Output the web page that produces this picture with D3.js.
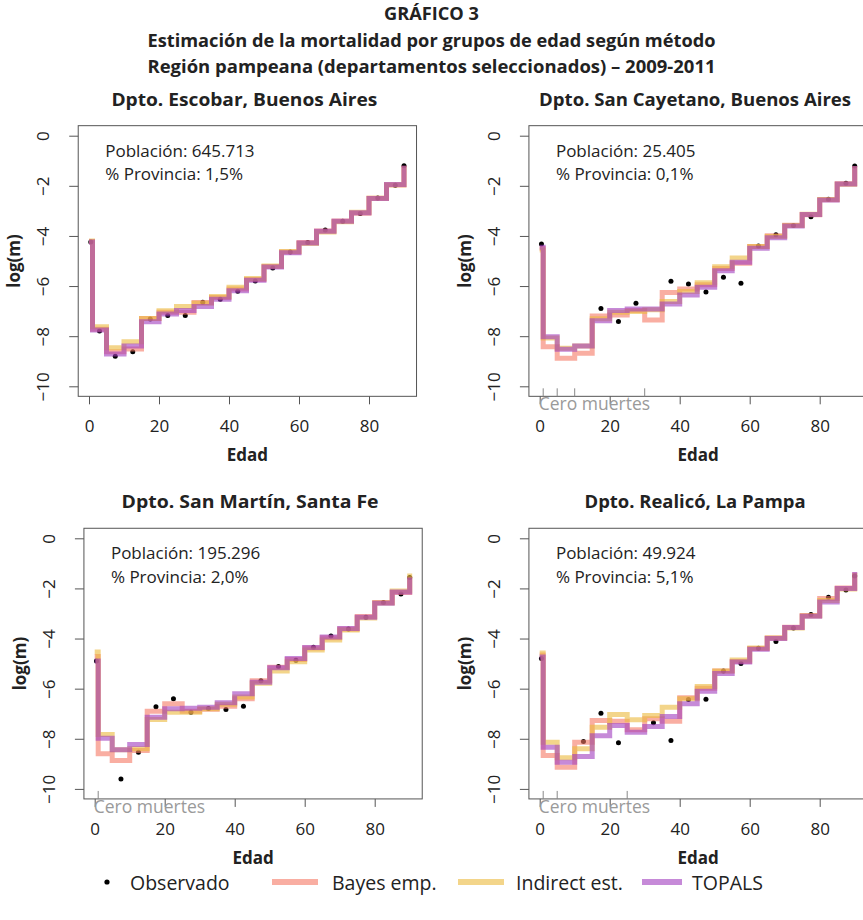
<!DOCTYPE html>
<html>
<head>
<meta charset="utf-8">
<script src="https://cdn.jsdelivr.net/npm/d3@7"></script>
<style>
  body { margin: 0; background: #fff; }
  svg text { font-family: "Open Sans", "Noto Sans", sans-serif; }
</style>
</head>
<body>
<svg id="chart" width="863" height="920"></svg>
<script>
// age groups: 0, 1-4, 5-9, ..., 85-89, 90+
const ageStart = [0, 1, 5, 10, 15, 20, 25, 30, 35, 40, 45, 50, 55, 60, 65, 70, 75, 80, 85, 90]
const ageMid = [0.5, 3, 7.5, 12.5, 17.5, 22.5, 27.5, 32.5, 37.5, 42.5, 47.5, 52.5, 57.5, 62.5, 67.5, 72.5, 77.5, 82.5, 87.5, 90]

const panelTitles = ['Dpto. Escobar, Buenos Aires', 'Dpto. San Cayetano, Buenos Aires', 'Dpto. San Martín, Santa Fe', 'Dpto. Realicó, La Pampa']
const poblacion = ['645.713', '25.405', '195.296', '49.924']
const provincia = ['1,5%', '0,1%', '2,0%', '5,1%']

// log(m) observed, null = zero deaths
const observado = [
  [-4.24, -7.79, -8.80, -8.62, -7.31, -7.17, -7.17, -6.65, -6.53, -6.21, -5.80, -5.28, -4.64, -4.26, -3.76, -3.41, -3.10, -2.49, -1.98, -1.20],
  [-4.32, null, null, null, -6.90, -7.41, -6.69, null, -5.81, -5.92, -6.24, -5.65, -5.89, -4.40, -3.95, -3.58, -3.23, -2.54, -1.90, -1.21],
  [-4.90, null, -9.60, -8.54, -6.72, -6.40, -6.94, -6.79, -6.83, -6.70, -5.68, -5.12, -4.87, -4.35, -3.90, -3.62, -3.15, -2.56, -2.22, -1.56],
  [-4.80, null, null, -8.11, -6.98, -8.16, null, -7.36, -8.07, -6.43, -6.42, -5.30, -5.00, -4.39, -4.12, -3.58, -3.04, -2.35, -2.06, -1.50]
]
const bayesEmp = [
  [-4.22, -7.72, -8.62, -8.51, -7.29, -7.05, -7.05, -6.66, -6.46, -6.12, -5.74, -5.22, -4.64, -4.26, -3.80, -3.40, -3.09, -2.50, -1.97, -1.20],
  [-4.50, -8.42, -8.88, -8.68, -7.19, -7.15, -6.98, -7.35, -6.26, -6.12, -5.95, -5.30, -5.09, -4.42, -3.99, -3.57, -3.15, -2.56, -1.92, -1.21],
  [-4.72, -8.60, -8.87, -8.47, -6.90, -6.60, -6.90, -6.82, -6.70, -6.40, -5.68, -5.15, -4.84, -4.38, -3.97, -3.62, -3.12, -2.56, -2.16, -1.52],
  [-4.66, -8.67, -9.14, -8.14, -7.27, -7.30, -7.64, -7.20, -7.30, -6.36, -5.98, -5.30, -4.92, -4.40, -3.98, -3.55, -3.08, -2.40, -1.98, -1.36]
]
const indirectEst = [
  [-4.20, -7.62, -8.46, -8.22, -7.29, -6.99, -6.82, -6.69, -6.42, -6.05, -5.70, -5.20, -4.62, -4.30, -3.84, -3.43, -3.05, -2.50, -1.96, -1.22],
  [-4.56, -8.07, -8.48, -8.39, -7.30, -7.05, -7.02, -6.95, -6.62, -6.22, -5.87, -5.23, -4.88, -4.42, -4.02, -3.58, -3.13, -2.55, -1.94, -1.22],
  [-4.54, -7.83, -8.44, -8.40, -7.23, -6.94, -6.94, -6.80, -6.62, -6.33, -5.78, -5.30, -4.93, -4.46, -4.06, -3.66, -3.18, -2.58, -2.10, -1.40],
  [-4.58, -8.14, -8.76, -8.40, -7.54, -7.03, -7.24, -7.07, -6.74, -6.40, -5.91, -5.30, -4.86, -4.38, -3.98, -3.58, -3.10, -2.48, -2.02, -1.38]
]
const topals = [
  [-4.24, -7.75, -8.71, -8.39, -7.42, -7.11, -6.98, -6.82, -6.53, -6.19, -5.77, -5.24, -4.67, -4.28, -3.81, -3.41, -3.07, -2.51, -1.95, -1.20],
  [-4.45, -8.02, -8.52, -8.39, -7.38, -6.98, -6.92, -6.92, -6.72, -6.36, -6.05, -5.39, -5.05, -4.49, -4.07, -3.60, -3.14, -2.57, -1.93, -1.21],
  [-4.90, -7.98, -8.44, -8.23, -7.14, -6.80, -6.78, -6.74, -6.56, -6.20, -5.74, -5.17, -4.80, -4.36, -3.94, -3.60, -3.15, -2.59, -2.14, -1.56],
  [-4.74, -8.34, -8.94, -8.71, -7.88, -7.47, -7.74, -7.51, -7.11, -6.60, -6.10, -5.40, -4.94, -4.43, -4.00, -3.56, -3.11, -2.54, -2.00, -1.34]
]

const xTicks = [0, 20, 40, 60, 80]
const yTicks = [0, -2, -4, -6, -8, -10]

const series = [
  {name: 'Bayes emp.', data: bayesEmp, color: 'rgb(245,120,100)', op: 0.6},
  {name: 'Indirect est.', data: indirectEst, color: 'rgb(235,185,60)', op: 0.6},
  {name: 'TOPALS', data: topals, color: 'rgb(160,60,190)', op: 0.6}
]

const svg = d3.select('#chart')
const ink = '#222'
const frame = '#555'

// headings
const head = [
  {t: 'GRÁFICO 3', y: 20, w: 95},
  {t: 'Estimación de la mortalidad por grupos de edad según método', y: 47, w: 568},
  {t: 'Región pampeana (departamentos seleccionados) – 2009-2011', y: 73, w: 568}
]
head.forEach(h => {
  svg.append('text').attr('x', 431.5).attr('y', h.y).attr('text-anchor', 'middle')
    .attr('font-size', 17).attr('font-weight', 'bold').attr('fill', ink)
    .attr('textLength', h.w).attr('lengthAdjust', 'spacingAndGlyphs').text(h.t)
})

// zero point of each panel (pixel of age 0 and log(m) 0)
const panels = [
  {zx: 89, zy: 135.7, tw: 266},
  {zx: 539.7, zy: 135.7, tw: 312},
  {zx: 94.7, zy: 538.3, tw: 257},
  {zx: 539.7, zy: 538.3, tw: 221}
]
const pxYear = 3.5, pxUnit = 25.06

panels.forEach((p, i) => {
  const x = d3.scaleLinear().domain([-3.08, 93.58]).range([p.zx - 3.08 * pxYear, p.zx + 93.58 * pxYear])
  const y = d3.scaleLinear().domain([-10.4, 0.4]).range([p.zy + 10.4 * pxUnit, p.zy - 0.4 * pxUnit])
  const [x0, x1] = x.range(), [y0, y1] = y.range()
  const g = svg.append('g')
  const cx = (x0 + x1) / 2, cy = (y0 + y1) / 2

  // panel title
  g.append('text').attr('x', cx - 3).attr('y', y1 - 20).attr('text-anchor', 'middle')
    .attr('font-size', 17).attr('font-weight', 'bold').attr('fill', ink)
    .attr('textLength', p.tw).attr('lengthAdjust', 'spacingAndGlyphs').text(panelTitles[i])

  // observed points first, lines go over them
  const obs = ageMid.map((a, k) => ({a, v: observado[i][k]})).filter(d => d.v !== null)
  g.selectAll('circle.obs').data(obs).enter().append('circle').attr('class', 'obs')
    .attr('cx', d => x(d.a)).attr('cy', d => y(d.v)).attr('r', 2.5).attr('fill', '#000')

  const line = d3.line().x(d => x(d.a)).y(d => y(d.v)).curve(d3.curveStepAfter)
  series.forEach(s => {
    const pts = ageStart.map((a, k) => ({a, v: s.data[i][k]}))
    g.append('path').attr('d', line(pts)).attr('fill', 'none')
      .attr('stroke', s.color).attr('stroke-opacity', s.op).attr('stroke-width', 5)
  })

  // frame
  g.append('rect').attr('x', x0).attr('y', y1).attr('width', x1 - x0).attr('height', y0 - y1)
    .attr('fill', 'none').attr('stroke', frame).attr('stroke-width', 1)

  // x axis
  const xa = g.append('g').attr('transform', `translate(0,${y0})`)
    .call(d3.axisBottom(x).tickValues(xTicks).tickSize(8).tickFormat(d3.format('d')))
  xa.select('.domain').remove()
  xa.selectAll('line').attr('stroke', frame)
  xa.selectAll('text').attr('font-size', 17).attr('fill', ink).attr('y', 24)

  // y axis, labels turned like R
  const ya = g.append('g').attr('transform', `translate(${x0},0)`)
    .call(d3.axisLeft(y).tickValues(yTicks).tickSize(9))
  ya.select('.domain').remove()
  ya.selectAll('line').attr('stroke', frame)
  ya.selectAll('text').attr('font-size', 17).attr('fill', ink)
    .attr('x', 0).attr('dy', 0).attr('text-anchor', 'middle')
    .attr('transform', 'translate(-29,0) rotate(-90)')

  g.append('text').attr('transform', `translate(${x0 - 58},${cy}) rotate(-90)`)
    .attr('text-anchor', 'middle').attr('font-size', 17).attr('font-weight', 'bold').attr('fill', ink)
    .text('log(m)')
  g.append('text').attr('x', cx).attr('y', y0 + 65).attr('text-anchor', 'middle')
    .attr('font-size', 17).attr('font-weight', 'bold').attr('fill', ink).text('Edad')

  // info text
  g.append('text').attr('x', x0 + 27).attr('y', y1 + 31).attr('font-size', 17).attr('fill', ink)
    .text('Población: ' + poblacion[i])
  g.append('text').attr('x', x0 + 27).attr('y', y1 + 54.5).attr('font-size', 17).attr('fill', ink)
    .text('% Provincia: ' + provincia[i])

  // groups with zero deaths
  const zeros = ageStart.filter((a, k) => observado[i][k] === null)
  if (zeros.length) {
    g.selectAll('line.zero').data(zeros).enter().append('line').attr('class', 'zero')
      .attr('x1', d => x(d)).attr('x2', d => x(d)).attr('y1', y0).attr('y2', y0 - 8)
      .attr('stroke', '#888').attr('stroke-width', 1)
    g.append('text').attr('x', x(0) - 1).attr('y', y0 + 14).attr('font-size', 17.5)
      .attr('fill', '#9a9a9a').text('Cero muertes')
  }
})

// legend
const leg = svg.append('g').attr('transform', 'translate(0,882)')
leg.append('circle').attr('cx', 107).attr('cy', 0).attr('r', 2.6).attr('fill', '#000')
leg.append('text').attr('x', 130).attr('y', 8).attr('font-size', 19.5).attr('fill', ink).text('Observado')
const legX = [[272, 318, 332], [458, 504, 516], [642, 682, 692]]
series.forEach((s, k) => {
  leg.append('line').attr('x1', legX[k][0]).attr('x2', legX[k][1]).attr('y1', 0).attr('y2', 0)
    .attr('stroke', s.color).attr('stroke-opacity', s.op).attr('stroke-width', 6)
  leg.append('text').attr('x', legX[k][2]).attr('y', 8).attr('font-size', 19.5).attr('fill', ink).text(s.name)
})
</script>
</body>
</html>
